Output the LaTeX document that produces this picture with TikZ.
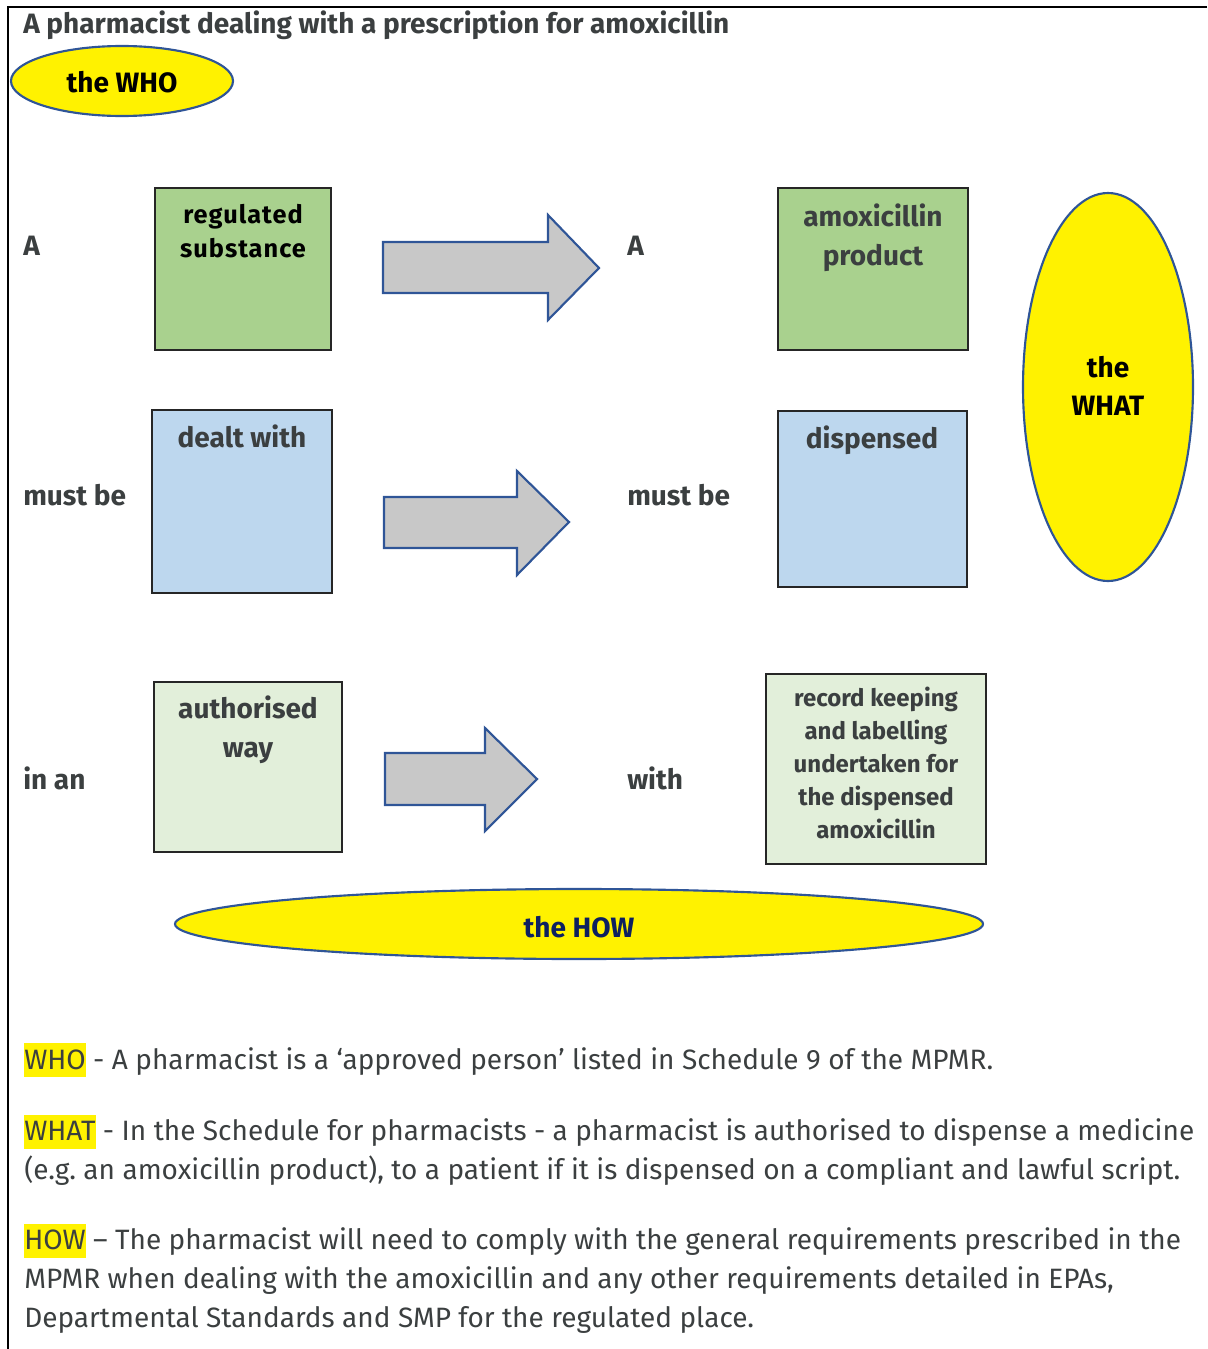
\documentclass[tikz,border=0pt]{standalone}
\usepackage{fontspec}
\setmainfont{Fira Sans}
\usepackage{tikz}
\usetikzlibrary{calc}

\definecolor{txtgray}{RGB}{59,63,64}
\definecolor{edgeblue}{RGB}{47,85,151}
\definecolor{howblue}{RGB}{13,32,96}
\definecolor{boxgreen}{RGB}{169,209,142}
\definecolor{boxblue}{RGB}{189,215,238}
\definecolor{boxpale}{RGB}{226,239,218}
\definecolor{arrowgray}{RGB}{200,200,200}

\newcommand{\hlword}[1]{{\setlength{\fboxsep}{0pt}\colorbox{yellow}{\rule[-0.3em]{0pt}{1.22em}#1}}}

\tikzset{
  lbl/.style={anchor=base west,inner sep=0pt,font=\fontsize{21}{25}\selectfont\bfseries,text=txtgray},
  boxtxt/.style={anchor=north,inner sep=0pt,align=center,font=\fontsize{21}{29}\selectfont\bfseries,text=txtgray},
  card/.style={draw=black!85,line width=1.5pt},
  blob/.style={draw=edgeblue,line width=1.6pt,fill=yellow},
  barrow/.style={draw=edgeblue,line width=1.6pt,fill=arrowgray,line join=miter},
  para/.style={anchor=base west,inner sep=0pt,align=left,font=\fontsize{21}{28.9}\selectfont\frenchspacing,text=txtgray}
}

\begin{document}
\begin{tikzpicture}[x=0.75pt,y=-0.75pt]
\useasboundingbox (0,0) rectangle (1207,1349);
\draw[line width=1.6pt] (1207,7) -- (8,7) -- (8,1349);

\node[anchor=base west,inner sep=0pt,font=\fontsize{21}{25}\selectfont\bfseries,text=txtgray] (title) at (23,33) {A pharmacist dealing with a prescription for amoxicillin};

% the WHO
\draw[blob] (122,81) ellipse[x radius=111,y radius=35];
\node[font=\fontsize{21}{25}\selectfont\bfseries] (who) at (122,82) {the WHO};

% row one
\node[lbl] (a1) at (23,255) {A};
\draw[card,fill=boxgreen] (155,188) rectangle (331,350);
\node[boxtxt,text=black,font=\fontsize{19}{25.5}\selectfont\bfseries\addfontfeature{LetterSpace=4}] (reg) at (243,204) {regulated\\substance};
\draw[barrow] (383,242) -- (548,242) -- (548,215) -- (599,268) -- (548,320) -- (548,293) -- (383,293) -- cycle;
\node[lbl] (a2) at (627,255) {A};
\draw[card,fill=boxgreen] (778,188) rectangle (968,350);
\node[boxtxt] (prod) at (873,204) {amoxicillin\\product};

% the WHAT
\draw[blob] (1108,387) ellipse[x radius=85,y radius=194];
\node[font=\fontsize{21}{29}\selectfont\bfseries,align=center] (what) at (1108,386) {the\\WHAT};

% row two
\node[lbl] (mb1) at (23,505) {must be};
\draw[card,fill=boxblue] (152,410) rectangle (332,593);
\node[boxtxt] (dealt) at (242,425) {dealt with};
\draw[barrow] (384,497) -- (517,497) -- (517,471) -- (569,522) -- (517,575) -- (517,548) -- (384,548) -- cycle;
\node[lbl] (mb2) at (627,505) {must be};
\draw[card,fill=boxblue] (778,411) rectangle (967,587);
\node[boxtxt] (disp) at (872,426) {dispensed};

% row three
\node[lbl] (inan) at (23,789) {in an};
\draw[card,fill=boxpale] (154,682) rectangle (342,852);
\node[boxtxt] (auth) at (248,696) {authorised\\way};
\draw[barrow] (385,753) -- (485,753) -- (485,728) -- (537,779) -- (485,831) -- (485,805) -- (385,805) -- cycle;
\node[lbl] (with) at (627,789) {with};
\draw[card,fill=boxpale] (766,674) rectangle (986,864);
\node[boxtxt,font=\fontsize{18}{24.75}\selectfont\bfseries] (rec) at (876,687) {record keeping\\and labelling\\undertaken for\\the dispensed\\amoxicillin};

% the HOW
\draw[blob] (579,924) ellipse[x radius=404,y radius=35];
\node[font=\fontsize{21}{25}\selectfont\bfseries,text=howblue] (how) at (579,927) {the HOW};

% notes (base = last line)
\node[para] (nwho) at (24,1069) {\hlword{WHO} - A pharmacist is a ‘approved person’ listed in Schedule 9 of the MPMR.};
\node[para] (nwhat) at (24,1179) {\hlword{WHAT} - In the Schedule for pharmacists - a pharmacist is authorised to dispense a medicine\\(e.g. an amoxicillin product), to a patient if it is dispensed on a compliant and lawful script.};
\node[para] (nhow) at (24,1327) {\hlword{HOW} – The pharmacist will need to comply with the general requirements prescribed in the\\MPMR when dealing with the amoxicillin and any other requirements detailed in EPAs,\\Departmental Standards and SMP for the regulated place.};
\end{tikzpicture}
\end{document}
